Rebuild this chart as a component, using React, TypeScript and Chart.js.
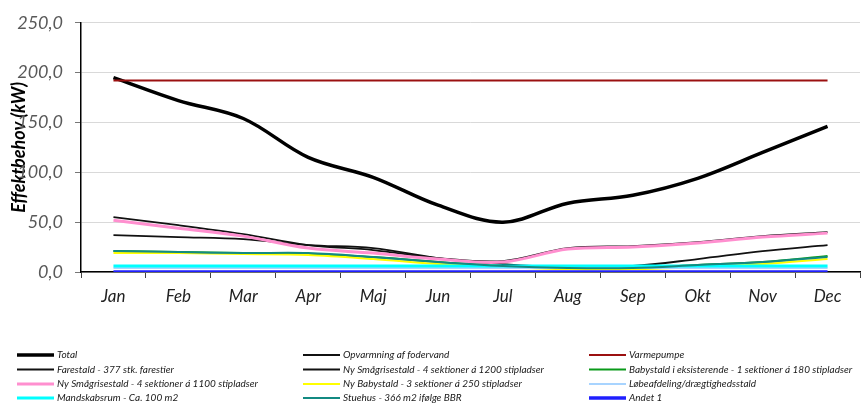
import React, { useEffect, useRef } from "react";
import { Chart, registerables } from "chart.js";

Chart.register(...registerables);

const months = ["Jan", "Feb", "Mar", "Apr", "Maj", "Jun", "Jul", "Aug", "Sep", "Okt", "Nov", "Dec"];

const total = [195, 172, 154, 115, 95, 67, 50, 69, 77, 94, 120, 146];
const opvarmning = [0, 0, 0, 0, 0, 0, 0, 0, 0, 0, 0, 0];
const varmepumpe = [192, 192, 192, 192, 192, 192, 192, 192, 192, 192, 192, 192];
const farestald = [37, 35, 33, 27, 24, 14, 8, 5, 6, 13, 21, 27];
const smaagris1200 = [55, 47, 38, 27, 22, 14, 11, 24, 26, 30, 36, 40];
const babystaldEks = [21, 20, 19, 18, 15, 10, 6, 4, 4, 7, 10, 16];
const smaagris1100 = [52, 44, 36, 24, 19, 13, 10, 23, 25, 29, 35, 39];
const nyBabystald = [19, 19, 18, 17, 13, 8, 5, 3, 3, 5, 8, 13];
const loebeafdeling = [4, 4, 4, 4, 4, 4, 4, 4, 4, 4, 4, 4];
const mandskabsrum = [6, 6, 6, 6, 6, 6, 6, 6, 6, 6, 6, 6];
const stuehus = [21, 20, 19, 19, 15, 10, 6, 4, 4, 7, 10, 15];
const andet1 = [0, 0, 0, 0, 0, 0, 0, 0, 0, 0, 0, 0];

const seriesLabels = [
  "Total",
  "Opvarmning af fodervand",
  "Varmepumpe",
  "Farestald - 377 stk. farestier",
  "Ny Smågrisestald - 4 sektioner á 1200 stipladser",
  "Babystald i eksisterende - 1 sektioner á 180 stipladser",
  "Ny Smågrisestald - 4 sektioner á 1100 stipladser",
  "Ny Babystald - 3 sektioner á 250 stipladser",
  "Løbeafdeling/drægtighedsstald",
  "Mandskabsrum - Ca. 100 m2",
  "Stuehus - 366 m2 ifølge BBR",
  "Andet 1",
];
const seriesData = [
  total, opvarmning, varmepumpe, farestald, smaagris1200, babystaldEks,
  smaagris1100, nyBabystald, loebeafdeling, mandskabsrum, stuehus, andet1,
];
const seriesColors = [
  "#000000", "#111111", "#9b1010", "#111111", "#111111", "#0a9a1a",
  "#ff8fcf", "#ffff00", "#a8d4ff", "#00ffff", "#138a82", "#1f1fff",
];
const seriesWidths = [3.5, 2, 2, 1.8, 1.8, 2, 3, 2, 2, 3, 2, 3.5];

const yTitle = "Effektbehov (kW)";

const legendCols = [17, 303, 589];
const legendRows = [355, 369.5, 384, 398];

const legendPlugin = {
  id: "gridLegend",
  afterDraw(chart: any) {
    const ctx = chart.ctx;
    ctx.save();
    ctx.font = "italic 10px Lato, 'Open Sans', sans-serif";
    ctx.textBaseline = "middle";
    ctx.textAlign = "left";
    chart.data.datasets.forEach((ds: any, i: number) => {
      const col = i % 3;
      const row = Math.floor(i / 3);
      const x = legendCols[col];
      const y = legendRows[row];
      ctx.strokeStyle = ds.borderColor;
      ctx.lineWidth = ds.borderWidth;
      ctx.beginPath();
      ctx.moveTo(x, y);
      ctx.lineTo(x + 37, y);
      ctx.stroke();
      ctx.fillStyle = "#1a1a1a";
      ctx.fillText(ds.label, x + 40, y);
    });
    ctx.restore();
  },
};

export default function App() {
  const ref = useRef<HTMLCanvasElement>(null);
  useEffect(() => {
    if (!ref.current) return;
    const n = seriesLabels.length;
    const chart = new Chart(ref.current, {
      type: "line",
      data: {
        labels: months,
        datasets: seriesLabels.map((label, i) => ({
          label,
          data: seriesData[i],
          borderColor: seriesColors[i],
          backgroundColor: seriesColors[i],
          borderWidth: seriesWidths[i],
          pointRadius: 0,
          pointHoverRadius: 0,
          tension: 0.35,
          fill: false,
          order: n - i,
        })),
      },
      options: {
        animation: false,
        responsive: true,
        maintainAspectRatio: false,
        layout: { padding: { left: 0, right: 8, top: 22, bottom: 0 } },
        plugins: { legend: { display: false }, tooltip: { enabled: false } },
        scales: {
          x: {
            offset: true,
            grid: {
              offset: true,
              drawOnChartArea: false,
              drawTicks: true,
              tickLength: 6,
              tickColor: "#444",
              tickWidth: 1,
            },
            border: { display: true, color: "#000", width: 1.5 },
            ticks: {
              padding: 8,
              color: "#222",
              font: { family: "Lato, 'Open Sans', sans-serif", size: 17, style: "italic" },
              maxRotation: 0,
            },
            afterFit(scale: any) {
              scale.height = 131;
            },
          },
          y: {
            min: 0,
            max: 250,
            ticks: {
              stepSize: 50,
              padding: 12,
              color: "#595959",
              font: { family: "Lato, 'Open Sans', sans-serif", size: 18, style: "italic" },
              callback: (v: any) => Number(v).toFixed(1).replace(".", ","),
            },
            grid: {
              color: "#d9d9d9",
              lineWidth: 1,
              tickLength: 6,
              tickColor: "#777",
            },
            border: { display: true, color: "#000", width: 1.5 },
            title: {
              display: true,
              text: yTitle,
              color: "#000",
              padding: { top: 8, bottom: 0 },
              font: { family: "Lato, 'Open Sans', sans-serif", size: 18, style: "italic", weight: "bold" },
            },
            afterFit(scale: any) {
              scale.width = 81;
            },
          },
        },
      },
      plugins: [legendPlugin],
    });
    return () => chart.destroy();
  }, []);
  return (
    <div style={{ position: "absolute", left: 0, top: 0, width: 868, height: 403 }}>
      <canvas ref={ref} />
    </div>
  );
}
